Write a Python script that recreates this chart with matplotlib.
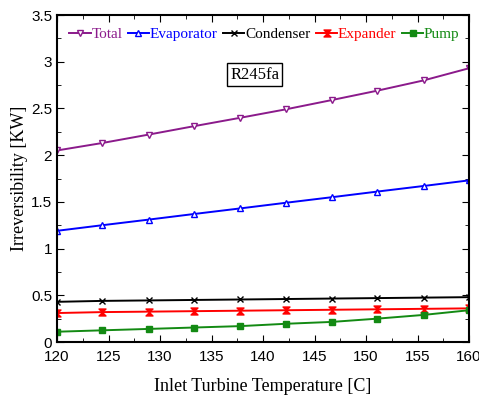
import numpy as np
import matplotlib.pyplot as plt
from matplotlib.path import Path
from matplotlib.ticker import MultipleLocator

temp = [120, 124.4, 128.9, 133.3, 137.8, 142.2, 146.7, 151.1, 155.6, 160]
total = [2.05, 2.13, 2.22, 2.31, 2.40, 2.49, 2.59, 2.69, 2.80, 2.93]
evaporator = [1.19, 1.25, 1.31, 1.37, 1.43, 1.49, 1.55, 1.61, 1.67, 1.73]
condenser = [0.43, 0.44, 0.445, 0.45, 0.455, 0.46, 0.465, 0.47, 0.475, 0.48]
expander = [0.31, 0.32, 0.325, 0.33, 0.335, 0.34, 0.345, 0.35, 0.355, 0.36]
pump = [0.11, 0.125, 0.14, 0.155, 0.17, 0.195, 0.215, 0.25, 0.29, 0.34]

# hourglass marker for the expander line
hourglass = Path([(-1, 1), (1, 1), (0, 0), (1, -1), (-1, -1), (0, 0), (-1, 1)],
                 [Path.MOVETO] + [Path.LINETO] * 5 + [Path.CLOSEPOLY])

fig = plt.figure(figsize=(4.79, 3.98), dpi=100)
ax = fig.add_axes([57 / 479, 56 / 398, 412 / 479, 327 / 398])

ax.plot(temp, total, color='#8b1a8b', marker='v', mfc='white', ms=4.5, lw=1.4, label='Total')
ax.plot(temp, evaporator, color='#0000ff', marker='^', mfc='white', ms=4.5, lw=1.4, label='Evaporator')
ax.plot(temp, condenser, color='black', marker='x', ms=4.5, lw=1.4, label='Condenser')
ax.plot(temp, expander, color='#ff0000', marker=hourglass, ms=5, lw=1.4, label='Expander')
ax.plot(temp, pump, color='#138a13', marker='s', ms=4.5, lw=1.4, label='Pump')

ax.set_xlim(120, 160)
ax.set_ylim(0, 3.5)
ax.xaxis.set_major_locator(MultipleLocator(5))
ax.xaxis.set_minor_locator(MultipleLocator(2.5))
ax.yaxis.set_major_locator(MultipleLocator(0.5))
ax.yaxis.set_minor_locator(MultipleLocator(0.25))
ax.set_yticks([0, 0.5, 1, 1.5, 2, 2.5, 3, 3.5], ['0', '0.5', '1', '1.5', '2', '2.5', '3', '3.5'])
ax.tick_params(which='both', direction='in', top=True, right=True, labelsize=11)
ax.tick_params(which='major', length=5)
ax.tick_params(which='minor', length=3)
ax.tick_params(axis='x', pad=6)
for s in ax.spines.values():
    s.set_linewidth(1.5)
for lab in ax.get_xticklabels() + ax.get_yticklabels():
    lab.set_family('Liberation Sans')

ax.set_xlabel('Inlet Turbine Temperature [C]', family='Liberation Serif', fontsize=13, labelpad=10)
ax.set_ylabel('Irreversibility [KW]', family='Liberation Serif', fontsize=13, labelpad=2)

leg = ax.legend(loc='upper left', ncol=5, frameon=False, handlelength=1.4, handletextpad=0.05,
                columnspacing=0.35, borderaxespad=0.6, borderpad=0.2,
                prop={'family': 'Liberation Serif', 'size': 11})
for txt, line in zip(leg.get_texts(), leg.get_lines()):
    txt.set_color(line.get_color())

ax.text(136.8, 2.82, 'R245fa', family='Liberation Serif', fontsize=12,
        bbox=dict(boxstyle='square,pad=0.2', fc='white', ec='black', lw=1))

fig.savefig('out.png', dpi=100)
